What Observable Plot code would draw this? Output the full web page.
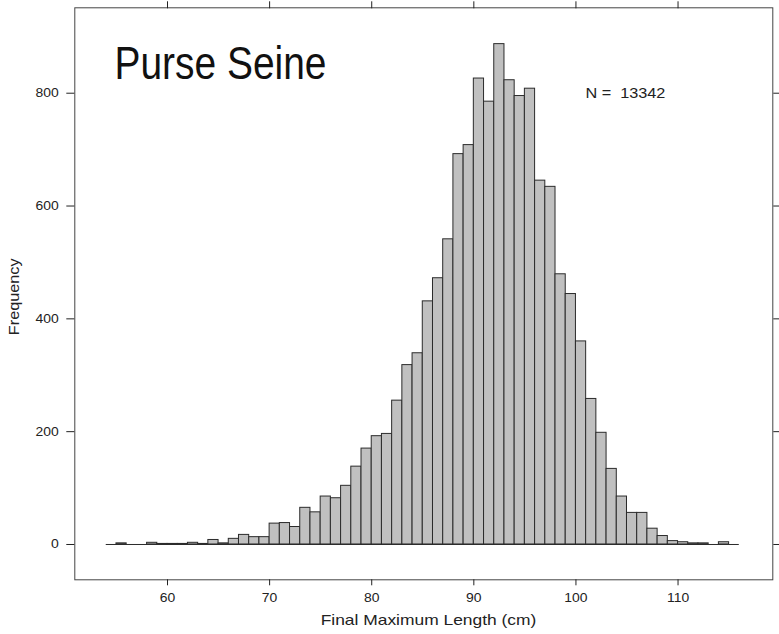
<!DOCTYPE html>
<html><head><meta charset="utf-8">
<script src="https://cdn.jsdelivr.net/npm/d3@7"></script>
<script src="https://cdn.jsdelivr.net/npm/@observablehq/plot@0.6"></script>
<style>
body{margin:0;background:#fff;}
svg text{white-space:pre;}
</style></head><body><div id="chart"></div>
<script>
// Bin start (cm), 1 cm wide bins
const lengthBins = [54,55,56,57,58,59,60,61,62,63,64,65,66,67,68,69,70,71,72,73,74,75,76,77,78,79,80,81,82,83,84,85,86,87,88,89,90,91,92,93,94,95,96,97,98,99,100,101,102,103,104,105,106,107,108,109,110,111,112,113,114,115];
const frequencies = [0,2,0,0,3,1,1,1,3,1,8,2,10,17,13,13,37,38,31,65,57,85,82,104,138,170,192,196,255,318,339,431,472,541,692,708,826,785,887,823,795,808,645,634,479,444,360,258,198,134,85,56,56,28,15,6,4,2,2,0,4,0];
const xTicks = [60,70,80,90,100,110];
const yTicks = [0,200,400,600,800];
const panelTitle = "Purse Seine";
const sampleSize = 13342;
const xLabel = "Final Maximum Length (cm)";
const yLabel = "Frequency";

const data = lengthBins.map((x, i) => ({x0: x, x1: x + 1, count: frequencies[i]}));

const plot = Plot.plot({
  width: 779, height: 634,
  marginLeft: 74.3, marginRight: 6.7, marginTop: 7.3, marginBottom: 54.7,
  style: {fontFamily: "'Liberation Sans', Arial, Helvetica, sans-serif", background: "#fff", color: "#222"},
  x: {domain: [50.92, 119.28]},
  y: {domain: [-62.6, 951.4]},
  marks: [
    Plot.rectY(data, {x1: "x0", x2: "x1", y1: 0, y2: "count", fill: "#c0c0c0", stroke: "#2b2b2b", strokeWidth: 1}),
    Plot.ruleY([0], {x1: d3.min(lengthBins), x2: d3.max(lengthBins) + 1, stroke: "#2b2b2b"}),
    Plot.frame({stroke: "#444"}),
    Plot.axisX({ticks: xTicks, anchor: "bottom", tickSize: 6, tickPadding: 7.5, fontSize: 12, label: null}),
    Plot.axisX({ticks: xTicks, anchor: "top", tickSize: 7, tickFormat: () => "", label: null}),
    Plot.axisY({ticks: yTicks, anchor: "left", tickSize: 8, tickPadding: 8, fontSize: 12, label: null}),
    Plot.axisY({ticks: yTicks, anchor: "right", tickSize: 7, tickFormat: () => "", label: null}),
    Plot.text([xLabel], {text: d => d, frameAnchor: "bottom", textAnchor: "middle", dy: 45, dx: 4.7, fontSize: 15, fill: "#222"}),
    Plot.text([yLabel], {text: d => d, frameAnchor: "left", textAnchor: "middle", rotate: -90, dx: -60, dy: 3, fontSize: 14, fill: "#222"}),
    Plot.text([panelTitle], {text: d => d, frameAnchor: "top-left", textAnchor: "start", lineAnchor: "middle", dx: 39.7, dy: 56, fontSize: 46, fill: "#111"}),
    Plot.text([`N =  ${sampleSize}`], {text: d => d, frameAnchor: "top-left", textAnchor: "start", lineAnchor: "middle", dx: 510.7, dy: 85.5, fontSize: 14, fill: "#222"})
  ]
});
document.getElementById("chart").append(plot);

// horizontal proportions of the reference lettering
plot.querySelectorAll("text").forEach(t => {
  const len = t.getComputedTextLength();
  if (!len) return;
  const f = t.textContent === panelTitle ? 212 / len : 1.16;
  t.setAttribute("textLength", (len * f).toFixed(1));
  t.setAttribute("lengthAdjust", "spacingAndGlyphs");
});
</script></body></html>
